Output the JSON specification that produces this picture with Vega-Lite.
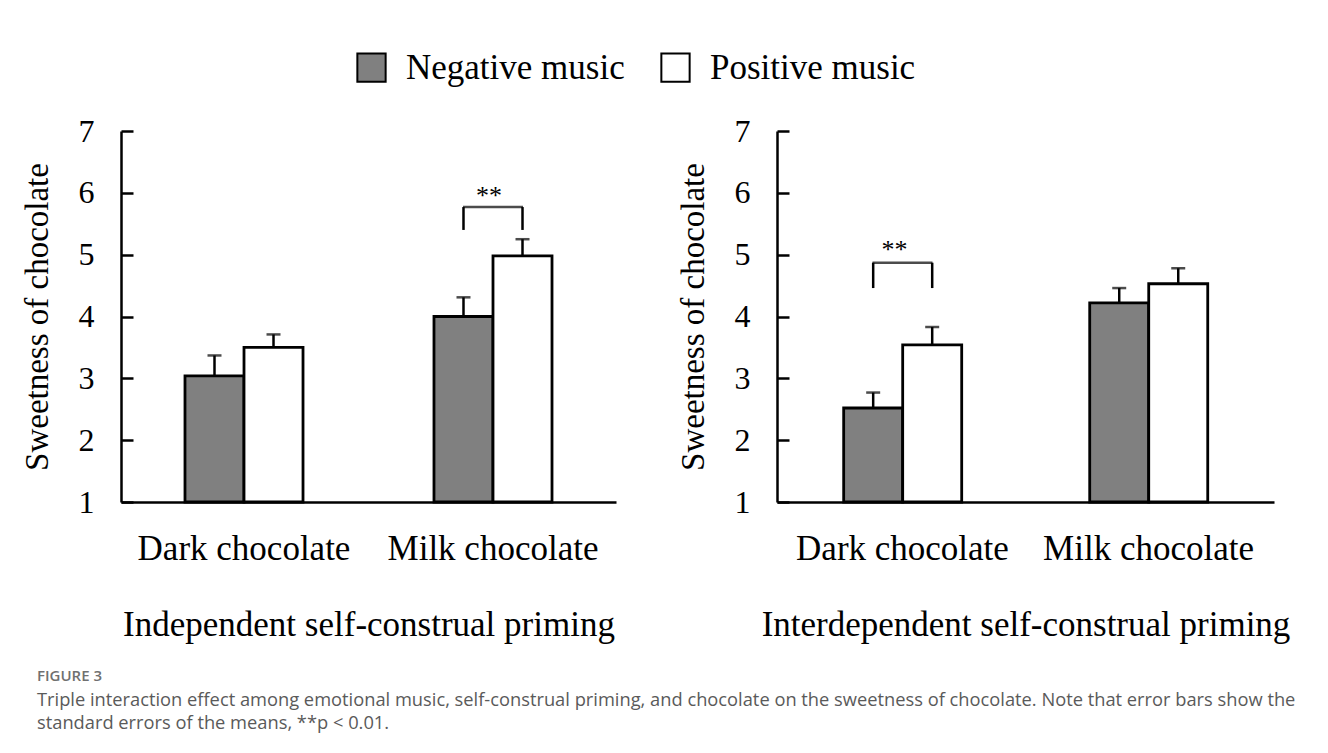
{
  "$schema": "https://vega.github.io/schema/vega-lite/v6.json",
  "background": "white",
  "padding": {"left": 21, "top": 50, "right": 10, "bottom": 10},
  "datasets": {
    "bars": [
      {"panel": "Independent", "chocolate": "Dark chocolate", "music": "Negative music", "mean": 3.04, "upper": 3.37},
      {"panel": "Independent", "chocolate": "Dark chocolate", "music": "Positive music", "mean": 3.50, "upper": 3.71},
      {"panel": "Independent", "chocolate": "Milk chocolate", "music": "Negative music", "mean": 4.00, "upper": 4.31},
      {"panel": "Independent", "chocolate": "Milk chocolate", "music": "Positive music", "mean": 4.98, "upper": 5.25},
      {"panel": "Interdependent", "chocolate": "Dark chocolate", "music": "Negative music", "mean": 2.52, "upper": 2.77},
      {"panel": "Interdependent", "chocolate": "Dark chocolate", "music": "Positive music", "mean": 3.54, "upper": 3.83},
      {"panel": "Interdependent", "chocolate": "Milk chocolate", "music": "Negative music", "mean": 4.22, "upper": 4.46},
      {"panel": "Interdependent", "chocolate": "Milk chocolate", "music": "Positive music", "mean": 4.53, "upper": 4.78}
    ],
    "legs": [
      {"panel": "Independent", "chocolate": "Milk chocolate", "music": "Negative music", "low": 5.40, "high": 5.77},
      {"panel": "Independent", "chocolate": "Milk chocolate", "music": "Positive music", "low": 5.40, "high": 5.77},
      {"panel": "Interdependent", "chocolate": "Dark chocolate", "music": "Negative music", "low": 4.46, "high": 4.87},
      {"panel": "Interdependent", "chocolate": "Dark chocolate", "music": "Positive music", "low": 4.46, "high": 4.87}
    ],
    "stars": [
      {"panel": "Independent", "chocolate": "Milk chocolate", "high": 5.77, "starY": 6.02, "label": "**"},
      {"panel": "Interdependent", "chocolate": "Dark chocolate", "high": 4.87, "starY": 5.14, "label": "**"}
    ]
  },
  "config": {
    "view": {"stroke": null},
    "font": "Liberation Serif",
    "axis": {
      "domainColor": "black",
      "domainWidth": 2.5,
      "tickColor": "black",
      "tickWidth": 2.5,
      "labelFont": "Liberation Serif",
      "labelColor": "black",
      "labelLimit": 0,
      "titleFont": "Liberation Serif",
      "titleFontWeight": "normal",
      "titleColor": "black",
      "titleLimit": 0,
      "grid": false
    },
    "concat": {"spacing": 61}
  },
  "title": {
    "text": "FIGURE 3",
    "subtitle": [
      "Triple interaction effect among emotional music, self-construal priming, and chocolate on the sweetness of chocolate. Note that error bars show the",
      "standard errors of the means, **p < 0.01."
    ],
    "orient": "bottom",
    "anchor": "start",
    "frame": "bounds",
    "dx": 16,
    "offset": 27,
    "font": "Open Sans",
    "fontSize": 15,
    "fontWeight": 600,
    "color": "#707070",
    "subtitleFont": "Open Sans",
    "subtitleFontSize": 18.3,
    "subtitleColor": "#5a5a5a",
    "subtitleLineHeight": 23,
    "subtitlePadding": 8
  },
  "hconcat": [
    {
      "width": 495,
      "height": 371,
      "layer": [
        {
          "data": {"name": "bars"},
          "transform": [{"filter": "datum.panel === 'Independent'"}],
          "mark": {"type": "rule", "color": "black", "strokeWidth": 2.5},
          "encoding": {
            "x": {"field": "chocolate", "type": "nominal", "scale": {"paddingInner": 0.526, "paddingOuter": 0.257},
                  "axis": {"title": "Independent self-construal priming", "titleFontSize": 35, "titlePadding": 41, "ticks": false, "labelAngle": 0, "labelPadding": 29, "labelFontSize": 35}},
            "xOffset": {"field": "music", "type": "nominal", "scale": {"paddingInner": 0, "paddingOuter": 0}},
            "y": {"field": "mean", "type": "quantitative", "scale": {"domain": [1, 7], "nice": false, "zero": false},
                  "axis": {"title": "Sweetness of chocolate", "titleFontSize": 33, "values": [1, 2, 3, 4, 5, 6, 7], "format": "d", "labelFontSize": 32, "tickSize": -12, "labelPadding": 39, "titlePadding": 24}},
            "y2": {"field": "upper"}
          }
        },
        {
          "data": {"name": "bars"},
          "transform": [{"filter": "datum.panel === 'Independent'"}],
          "mark": {"type": "tick", "color": "black", "thickness": 2.5, "size": 14},
          "encoding": {
            "x": {"field": "chocolate", "type": "nominal"},
            "xOffset": {"field": "music", "type": "nominal"},
            "y": {"field": "upper", "type": "quantitative"}
          }
        },
        {
          "data": {"name": "bars"},
          "transform": [{"filter": "datum.panel === 'Independent'"}],
          "mark": {"type": "bar", "stroke": "black", "strokeWidth": 2.8},
          "encoding": {
            "x": {"field": "chocolate", "type": "nominal"},
            "xOffset": {"field": "music", "type": "nominal"},
            "y": {"field": "mean", "type": "quantitative"},
            "y2": {"datum": 1},
            "fill": {"field": "music", "type": "nominal",
                     "scale": {"domain": ["Negative music", "Positive music"], "range": ["#808080", "#ffffff"]},
                     "legend": {"orient": "none", "legendX": 233, "legendY": -81, "direction": "horizontal", "title": null,
                                "symbolType": "square", "symbolSize": 800, "symbolStrokeColor": "black", "symbolStrokeWidth": 2,
                                "labelFont": "Liberation Serif", "labelFontSize": 35, "labelColor": "black", "labelLimit": 0, "columnPadding": 32, "labelOffset": 17}}
          }
        },
        {
          "data": {"name": "legs"},
          "transform": [{"filter": "datum.panel === 'Independent'"}],
          "mark": {"type": "rule", "color": "black", "strokeWidth": 2.5},
          "encoding": {
            "x": {"field": "chocolate", "type": "nominal"},
            "xOffset": {"field": "music", "type": "nominal"},
            "y": {"field": "low", "type": "quantitative"},
            "y2": {"field": "high"}
          }
        },
        {
          "data": {"name": "stars"},
          "transform": [{"filter": "datum.panel === 'Independent'"}],
          "mark": {"type": "tick", "color": "black", "thickness": 2.5, "size": 60},
          "encoding": {
            "x": {"field": "chocolate", "type": "nominal"},
            "y": {"field": "high", "type": "quantitative"}
          }
        },
        {
          "data": {"name": "stars"},
          "transform": [{"filter": "datum.panel === 'Independent'"}],
          "mark": {"type": "text", "color": "black", "font": "Liberation Serif", "fontSize": 26, "baseline": "middle", "dx": -4, "dy": 4},
          "encoding": {
            "x": {"field": "chocolate", "type": "nominal"},
            "y": {"field": "starY", "type": "quantitative"},
            "text": {"field": "label"}
          }
        }
      ]
    },
    {
      "width": 497,
      "height": 371,
      "layer": [
        {
          "data": {"name": "bars"},
          "transform": [{"filter": "datum.panel === 'Interdependent'"}],
          "mark": {"type": "rule", "color": "black", "strokeWidth": 2.5},
          "encoding": {
            "x": {"field": "chocolate", "type": "nominal", "scale": {"paddingInner": 0.522, "paddingOuter": 0.271},
                  "axis": {"title": "Interdependent self-construal priming", "titleFontSize": 35, "titlePadding": 41, "ticks": false, "labelAngle": 0, "labelPadding": 29, "labelFontSize": 35}},
            "xOffset": {"field": "music", "type": "nominal", "scale": {"paddingInner": 0, "paddingOuter": 0}},
            "y": {"field": "mean", "type": "quantitative", "scale": {"domain": [1, 7], "nice": false, "zero": false},
                  "axis": {"title": "Sweetness of chocolate", "titleFontSize": 33, "values": [1, 2, 3, 4, 5, 6, 7], "format": "d", "labelFontSize": 32, "tickSize": -12, "labelPadding": 39, "titlePadding": 24}},
            "y2": {"field": "upper"}
          }
        },
        {
          "data": {"name": "bars"},
          "transform": [{"filter": "datum.panel === 'Interdependent'"}],
          "mark": {"type": "tick", "color": "black", "thickness": 2.5, "size": 14},
          "encoding": {
            "x": {"field": "chocolate", "type": "nominal"},
            "xOffset": {"field": "music", "type": "nominal"},
            "y": {"field": "upper", "type": "quantitative"}
          }
        },
        {
          "data": {"name": "bars"},
          "transform": [{"filter": "datum.panel === 'Interdependent'"}],
          "mark": {"type": "bar", "stroke": "black", "strokeWidth": 2.8},
          "encoding": {
            "x": {"field": "chocolate", "type": "nominal"},
            "xOffset": {"field": "music", "type": "nominal"},
            "y": {"field": "mean", "type": "quantitative"},
            "y2": {"datum": 1},
            "fill": {"field": "music", "type": "nominal"}
          }
        },
        {
          "data": {"name": "legs"},
          "transform": [{"filter": "datum.panel === 'Interdependent'"}],
          "mark": {"type": "rule", "color": "black", "strokeWidth": 2.5},
          "encoding": {
            "x": {"field": "chocolate", "type": "nominal"},
            "xOffset": {"field": "music", "type": "nominal"},
            "y": {"field": "low", "type": "quantitative"},
            "y2": {"field": "high"}
          }
        },
        {
          "data": {"name": "stars"},
          "transform": [{"filter": "datum.panel === 'Interdependent'"}],
          "mark": {"type": "tick", "color": "black", "thickness": 2.5, "size": 60},
          "encoding": {
            "x": {"field": "chocolate", "type": "nominal"},
            "y": {"field": "high", "type": "quantitative"}
          }
        },
        {
          "data": {"name": "stars"},
          "transform": [{"filter": "datum.panel === 'Interdependent'"}],
          "mark": {"type": "text", "color": "black", "font": "Liberation Serif", "fontSize": 26, "baseline": "middle", "dx": -8, "dy": 4},
          "encoding": {
            "x": {"field": "chocolate", "type": "nominal"},
            "y": {"field": "starY", "type": "quantitative"},
            "text": {"field": "label"}
          }
        }
      ]
    }
  ]
}
